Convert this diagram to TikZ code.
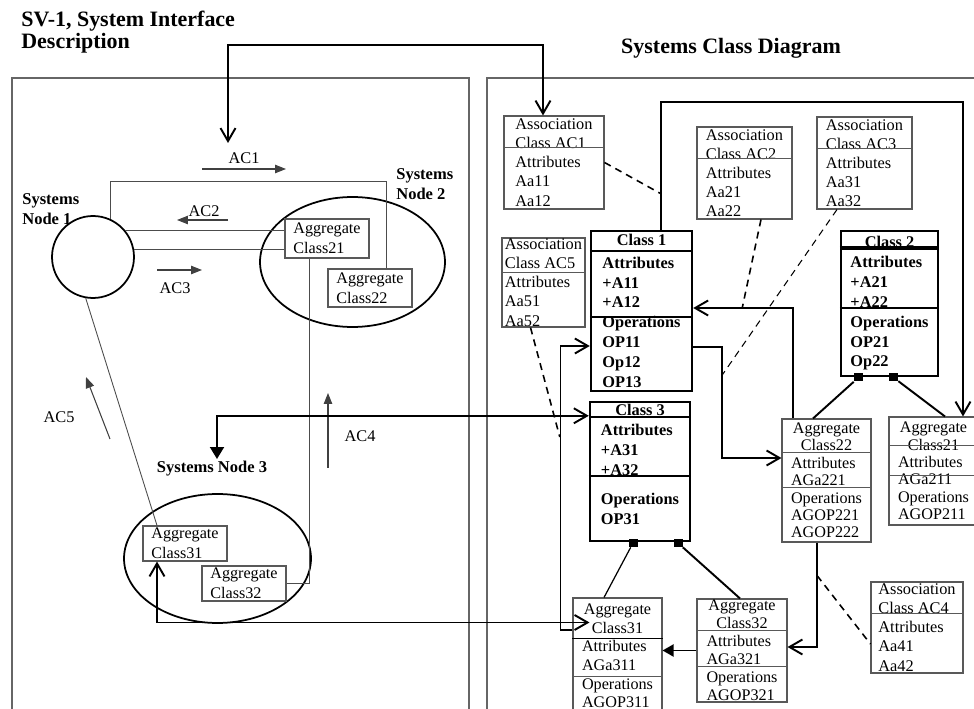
\documentclass[tikz,border=0pt]{standalone}
\usepackage{fontspec}
\setmainfont{Liberation Serif}
\usetikzlibrary{arrows.meta,shapes.geometric}

% divider line across a box, #3 = offset from the top
\newcommand{\partline}[3][]{\draw[#1] ([shift={(0,#3)}]#2.north west) -- ([shift={(0,#3)}]#2.north east);}
% line centred over the width of the widest line of a box
\newcommand{\ctrline}[1]{\setbox0\hbox{Operations}\makebox[\wd0]{#1}}

\begin{document}
\begin{tikzpicture}[x=0.02cm, y=-0.02cm,
  >={Straight Barb[length=2.6mm,width=3mm]},
  panel/.style={draw=black!60, line width=0.6pt},
  title/.style={font=\fontsize{12.5}{10.8}\selectfont\bfseries, align=left, inner sep=0pt},
  lbl/.style={font=\fontsize{9.3}{11}\selectfont, inner sep=0pt},
  blbl/.style={font=\fontsize{9.4}{11}\selectfont\bfseries, align=left, inner sep=0pt},
  sysnode/.style={draw, line width=1pt, inner sep=0pt},
  aggl/.style={draw=black!65, line width=0.6pt, font=\fontsize{9.2}{11.3}\selectfont, align=left, inner sep=0pt, minimum width=1.68cm},
  assoc/.style={draw=black!65, line width=0.6pt, font=\fontsize{9.3}{10.9}\selectfont, align=left, inner sep=0pt},
  agg/.style={draw=black!65, line width=0.6pt, font=\fontsize{9.2}{9.9}\selectfont, align=left, inner sep=0pt},
  cls/.style={draw, line width=1.4pt, font=\fontsize{9.3}{11.3}\selectfont\bfseries, align=left, inner sep=0pt},
  pline/.style={draw=black!65, line width=0.6pt},
  cline/.style={line width=1.4pt},
  wire/.style={draw=black!70, line width=0.5pt},
  flow/.style={black!75, line width=0.6pt, -{Triangle[length=2.2mm,width=1.7mm]}},
  link/.style={line width=1.1pt},
  assocl/.style={line width=0.9pt, dash pattern=on 4pt off 3pt},
  comp/.style={fill, inner sep=0pt, minimum width=0.18cm, minimum height=0.16cm}
]
\useasboundingbox (0,0) rectangle (974,709);
\clip (0,0) rectangle (974,709);

% panels and titles
\draw[panel] (12,78) rectangle (469,730);
\draw[panel] (487,78) rectangle (990,730);
\node[title, anchor=west] (ttl1) at (21,32) {SV-1, System Interface\\Description};
\node[title] (ttl2) at (731,48) {Systems Class Diagram};

% SV-1 side
\node[blbl, anchor=west] (n1lbl) at (22,209) {Systems\\Node 1};
\node[sysnode, circle, minimum size=1.64cm] (n1) at (93,257) {};
\node[blbl, anchor=west] (n2lbl) at (396,184) {Systems\\Node 2};
\node[sysnode, ellipse, minimum width=3.7cm, minimum height=2.6cm] (n2) at (352.5,262) {};
\node[aggl, minimum height=0.78cm] (agg21L) at (327,238.5) {Aggregate\\Class21};
\node[aggl, minimum height=0.76cm] (agg22L) at (370,288) {Aggregate\\Class22};
\node[blbl] (n3lbl) at (212,469) {Systems Node 3};
\node[sysnode, ellipse, minimum width=3.74cm, minimum height=2.58cm] (n3) at (217.5,558.5) {};
\node[aggl, minimum height=0.7cm] (agg31L) at (185,543.5) {Aggregate\\Class31};
\node[aggl, minimum height=0.7cm] (agg32L) at (244,583.5) {Aggregate\\Class32};

\node[lbl] (lac1) at (244,158) {AC1};
\node[lbl] (lac2) at (204,211) {AC2};
\node[lbl] (lac3) at (175,288) {AC3};
\node[lbl] (lac4) at (360,436) {AC4};
\node[lbl] (lac5) at (59,417) {AC5};

\draw[flow] ([shift={(-42,11)}]lac1.center) -- ([shift={(42,11)}]lac1.center);
\draw[flow] ([shift={(24,9)}]lac2.center) -- ([shift={(-27,9)}]lac2.center);
\draw[flow] ([shift={(-18,-18)}]lac3.center) -- ([shift={(27,-18)}]lac3.center);
\draw[flow] ([shift={(-32,32)}]lac4.center) -- ([shift={(-32,-43)}]lac4.center);
\draw[flow] ([shift={(51,22)}]lac5.center) -- ([shift={(27,-40)}]lac5.center);

\draw[wire] (n1.66) -- ++(0,-37) -| ([shift={(16,0)}]agg22L.north);
\draw[wire] (n1.40) -- (n1.40 -| agg21L.west);
\draw[wire] (n1.11) -- (n1.11 -| agg21L.west);
\draw[wire] ([shift={(-18,0)}]agg21L.south) |- (agg32L.east);
\draw[wire] (n1.260) -- ([shift={(-28,0)}]agg31L.north);

% class diagram side
\node[assoc, minimum width=2cm, minimum height=1.86cm] (ac1) at (554,162.5) {Association\\Class AC1\\Attributes\\Aa11\\Aa12};
\partline[pline]{ac1}{32}
\node[assoc, minimum width=1.9cm, minimum height=1.84cm] (ac2) at (744.5,173) {Association\\Class AC2\\Attributes\\Aa21\\Aa22};
\partline[pline]{ac2}{32}
\node[assoc, minimum width=1.9cm, minimum height=1.84cm] (ac3) at (864.5,163) {Association\\Class AC3\\Attributes\\Aa31\\Aa32};
\partline[pline]{ac3}{32}
\node[assoc, minimum width=1.66cm, minimum height=1.78cm] (ac5) at (543.5,282.5) {Association\\Class AC5\\Attributes\\Aa51\\Aa52};
\partline[pline]{ac5}{35}
\node[assoc, minimum width=1.84cm, minimum height=1.82cm] (ac4) at (917,627.5) {Association\\Class AC4\\Attributes\\Aa41\\Aa42};
\partline[pline]{ac4}{32}

\node[cls, minimum width=2.02cm, minimum height=3.2cm] (cls1) at (641.5,311) {\ctrline{Class 1}\\[1.5pt]Attributes\\+A11\\+A12\\Operations\\OP11\\Op12\\OP13};
\partline[cline]{cls1}{21}
\partline[cline]{cls1}{87}
\node[cls, minimum width=1.94cm, minimum height=2.9cm] (cls2) at (889.5,303.5) {\ctrline{Class 2}\\Attributes\\+A21\\+A22\\Operations\\OP21\\Op22};
\partline[line width=2.4pt]{cls2}{18}
\partline[cline]{cls2}{78}
\node[cls, minimum width=2cm, minimum height=2.78cm, text depth=0.28cm] (cls3) at (640,471.5) {\ctrline{Class 3}\\Attributes\\+A31\\+A32\\[5.7pt]Operations\\OP31};
\partline[cline]{cls3}{16}
\partline[cline]{cls3}{75}

\node[agg, minimum width=1.78cm, minimum height=2.46cm] (agc22) at (826.5,480.5) {\ctrline{Aggregate}\\\ctrline{Class22}\\Attributes\\AGa221\\Operations\\AGOP221\\AGOP222};
\partline[pline]{agc22}{34}
\partline[pline]{agc22}{69}
\node[agg, minimum width=1.78cm, minimum height=2.16cm] (agc21) at (933.5,471) {\ctrline{Aggregate}\\\ctrline{Class21}\\Attributes\\AGa211\\Operations\\AGOP211};
\partline[pline]{agc21}{29}
\partline[pline]{agc21}{59}
\node[agg, font=\fontsize{9.2}{10.2}\selectfont, minimum width=1.8cm, minimum height=2.06cm] (agc32) at (742,650.5) {\ctrline{Aggregate}\\\ctrline{Class32}\\Attributes\\AGa321\\Operations\\AGOP321};
\partline[pline]{agc32}{32}
\partline[pline]{agc32}{68}
\node[agg, font=\fontsize{9.2}{10.6}\selectfont, minimum width=1.78cm, minimum height=2.32cm] (agc31) at (617.5,656) {\ctrline{Aggregate}\\\ctrline{Class31}\\Attributes\\AGa311\\Operations\\AGOP311};
\partline[line width=1.1pt]{agc31}{41}
\partline[pline]{agc31}{79}

\node[comp] (c3a) at (633,543) {};
\node[comp] (c3b) at (678,543) {};
\node[comp] (c2a) at (858.5,377.5) {};
\node[comp] (c2b) at (893.5,377.5) {};
\draw[line width=0.7pt] (c3a) -- ([shift={(-13.5,0)}]agc31.north);
\draw[link] (c3b) -- ([shift={(-2,0)}]agc32.north);
\draw[link] (c2a) -- ([shift={(-13.5,0)}]agc22.north);
\draw[link] (c2b) -- ([shift={(11.5,0)}]agc21.north);

% links between the two views
\draw[link, <->] ([shift={(-16,-15)}]lac1.center) -- ++(0,-98) -| ([shift={(-11,0)}]ac1.north);
\draw[link, {Triangle[length=2.4mm,width=2.8mm]}->] ([shift={(5,-10)}]n3lbl.center) |- ([shift={(0,15)}]cls3.north west);
\draw[link, <->] ([shift={(-28,0)}]agg31L.south) |- ([shift={(17,25)}]agc31.north west);

\draw[link, ->] ([shift={(19.5,0)}]cls1.north) -- ++(0,-128) -| ([shift={(29.5,0)}]agc21.north);
\draw[link, ->] ([shift={(-33.5,0)}]agc22.north) |- ([shift={(0,-3)}]cls1.east);
\draw[link, ->] ([shift={(0,36)}]cls1.east) -- ++(29,0) |- ([shift={(0,-22.5)}]agc22.west);
\draw[link, ->] ([shift={(0,-26)}]agc31.west) -- ++(-12,0) |- ([shift={(0,35)}]cls1.west);
\draw[link, -{Triangle[length=2.2mm,width=2.4mm]}] (agc32.west) -- (agc32.west -| agc31.east);
\draw[link, ->] ([shift={(-9.5,0)}]agc22.south) |- ([shift={(0,-3.5)}]agc32.east);

\draw[assocl] (ac1.east) -- ([shift={(19.5,-36)}]cls1.north);
\draw[assocl] ([shift={(16.5,0)}]ac2.south) -- ([shift={(49,-3)}]cls1.east);
\draw[assocl, line width=0.6pt] ([shift={(-27.5,0)}]ac3.south) -- ([shift={(29,64)}]cls1.east);
\draw[assocl] ([shift={(-13,0)}]ac5.south) -- ([shift={(-29,-34.5)}]cls3.west);
\draw[assocl] ([shift={(-9.5,33)}]agc22.south) -- ([shift={(0,16.5)}]ac4.west);
\end{tikzpicture}
\end{document}
